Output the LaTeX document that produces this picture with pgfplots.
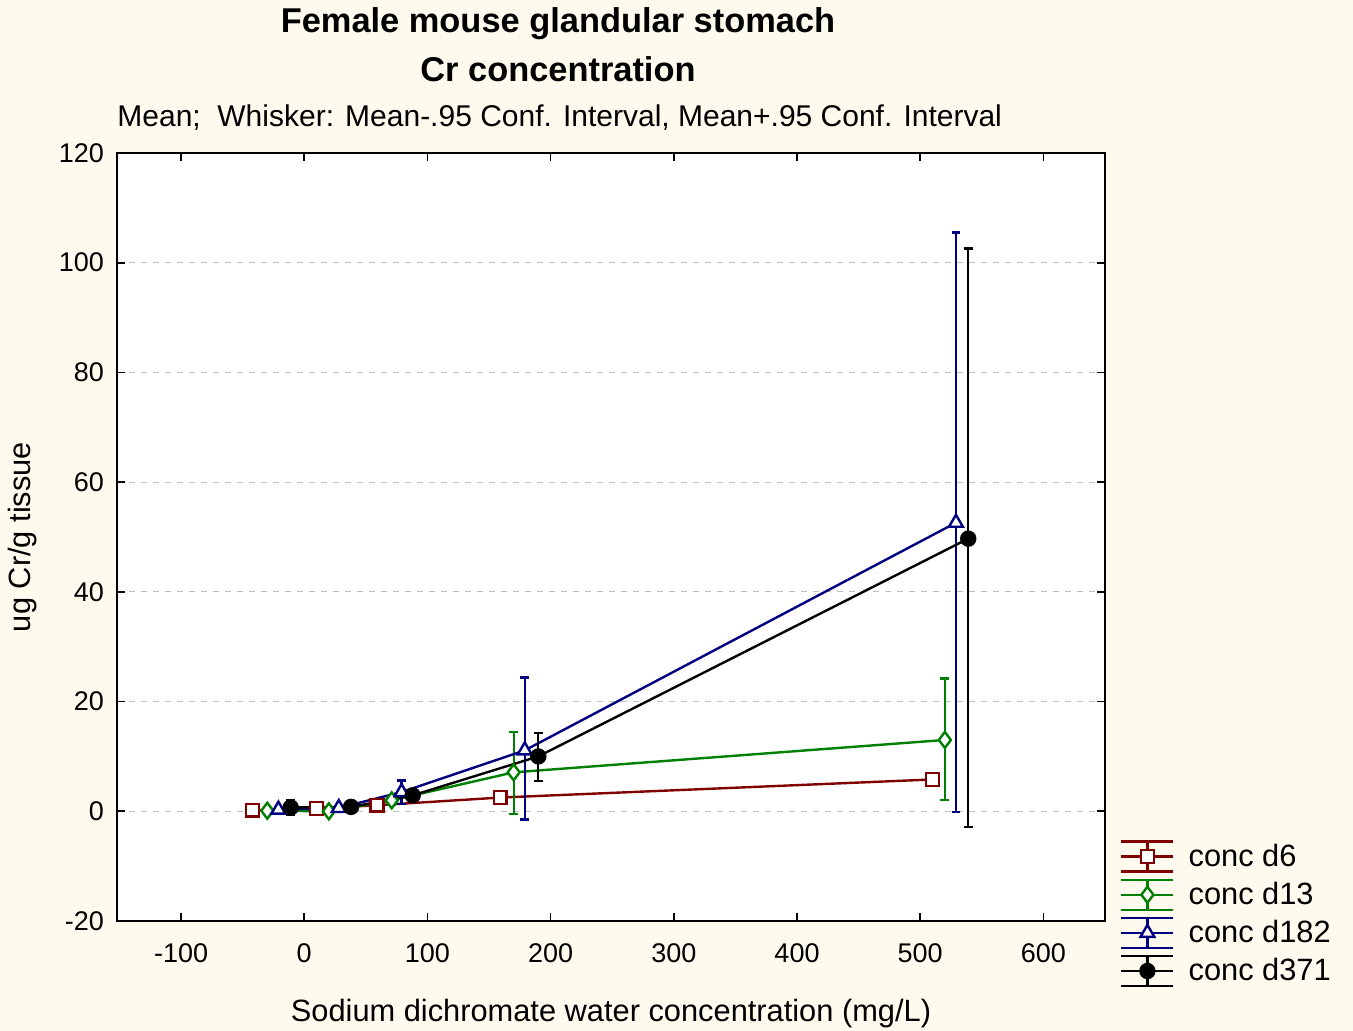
\documentclass[border=0pt]{standalone}
\usepackage{pgfplots}
\pgfplotsset{compat=1.18}
\usepackage{fontspec}
\setmainfont{Liberation Sans}
\definecolor{bgcream}{RGB}{255,250,238}
\definecolor{cdsix}{RGB}{128,0,0}
\definecolor{cdthirteen}{RGB}{0,128,0}
\definecolor{cdoneeighty}{RGB}{0,0,128}
\begin{document}
\begin{tikzpicture}[x=0.5pt,y=0.5pt]
\useasboundingbox (0,0) rectangle (1353,1031);
\fill[bgcream] (0,0) rectangle (1353,1031);
\node[font=\fontsize{17.2}{20}\selectfont\bfseries] at (558,1007) {Female mouse glandular stomach};
\node[font=\fontsize{17.2}{20}\selectfont\bfseries] at (558,962) {Cr concentration};
\node[font=\fontsize{15}{18}\selectfont,anchor=west,inner sep=0pt] at (117,913) {Mean;\ \ Whisker: Mean-.95 Conf. Interval, Mean+.95 Conf. Interval};
\begin{axis}[
    at={(117pt*0.5,110pt*0.5)}, anchor=south west,
    scale only axis,
    width=494pt, height=384pt,
    xmin=-152, xmax=650,
    ymin=-20, ymax=120,
    xtick={-100,0,...,600},
    ytick={-20,0,...,120},
    axis background/.style={fill=white},
    axis line style={line width=1pt},
    tick style={black,line width=0.8pt},
    major tick length=4pt,
    tick align=inside,
    ymajorgrids,
    major grid style={gray!50,dashed,line width=0.5pt},
    tick label style={font=\fontsize{13.5}{16}\selectfont},
    /pgf/number format/assume math mode=true,
    xticklabel style={yshift=-8pt},
    yticklabel style={xshift=-3pt},
    xlabel={Sodium dichromate water concentration (mg/L)},
    ylabel={ug Cr/g tissue},
    label style={font=\fontsize{15.4}{18}\selectfont},
    xlabel style={yshift=-11pt},
    ylabel style={yshift=4pt},
    error bars/error bar style={line width=1.1pt},
    error bars/error mark options={rotate=90,mark size=2.2pt,line width=1.1pt},
    legend style={at={(1.015,0.106)},anchor=north west,draw=none,fill=none,
        font=\fontsize{15.4}{18}\selectfont,row sep=2.4pt,inner sep=0pt},
    legend cell align=left,
    legend image code/.code={
        \draw[#1,mark=none] (0pt,-7.5pt)--(26pt,-7.5pt) (0pt,7.5pt)--(26pt,7.5pt) (13pt,-7.5pt)--(13pt,7.5pt) (0pt,0pt)--(26pt,0pt);
        \draw[#1,only marks] plot coordinates {(13pt,0pt)};
        \path (31pt,0pt);
    },
]
\addplot[cdsix,line width=1.2pt,mark=square*,mark size=3.2pt,mark options={fill=white,solid},
    error bars/.cd,y dir=both,y explicit] coordinates {
    (-42,0.2) +- (0,0.1)
    (10,0.5) +- (0,0.2)
    (59,1.1) +- (0,0.3)
    (159,2.5) +- (0,0.5)
    (510,5.8) +- (0,0.8)
};
\addlegendentry{conc d6}
\addplot[cdthirteen,line width=1.2pt,mark=diamond*,mark size=4pt,mark options={fill=white,solid},
    error bars/.cd,y dir=both,y explicit] coordinates {
    (-30,0.1) +- (0,0.2)
    (20,0.0) +- (0,0.3)
    (71,2.0) +- (0,0.8)
    (170,7.1) += (0,7.3) -= (0,7.6)
    (520,13.0) += (0,11.2) -= (0,11.0)
};
\addlegendentry{conc d13}
\addplot[cdoneeighty,line width=1.2pt,mark=triangle*,mark size=4pt,mark options={fill=white,solid},
    error bars/.cd,y dir=both,y explicit] coordinates {
    (-21,0.3) +- (0,0.3)
    (28,0.6) +- (0,0.4)
    (79,3.5) += (0,2.1) -= (0,2.2)
    (179,11.1) += (0,13.3) -= (0,12.6)
    (529,52.6) += (0,52.9) -= (0,52.8)
};
\addlegendentry{conc d182}
\addplot[black,line width=1.2pt,mark=*,mark size=3.5pt,
    error bars/.cd,y dir=both,y explicit] coordinates {
    (-11,0.7) += (0,1.3) -= (0,1.4)
    (38,0.8) +- (0,0.6)
    (88,2.9) +- (0,1.0)
    (190,10.0) += (0,4.2) -= (0,4.5)
    (539,49.7) += (0,52.9) -= (0,52.5)
};
\addlegendentry{conc d371}
\end{axis}
\end{tikzpicture}
\end{document}
